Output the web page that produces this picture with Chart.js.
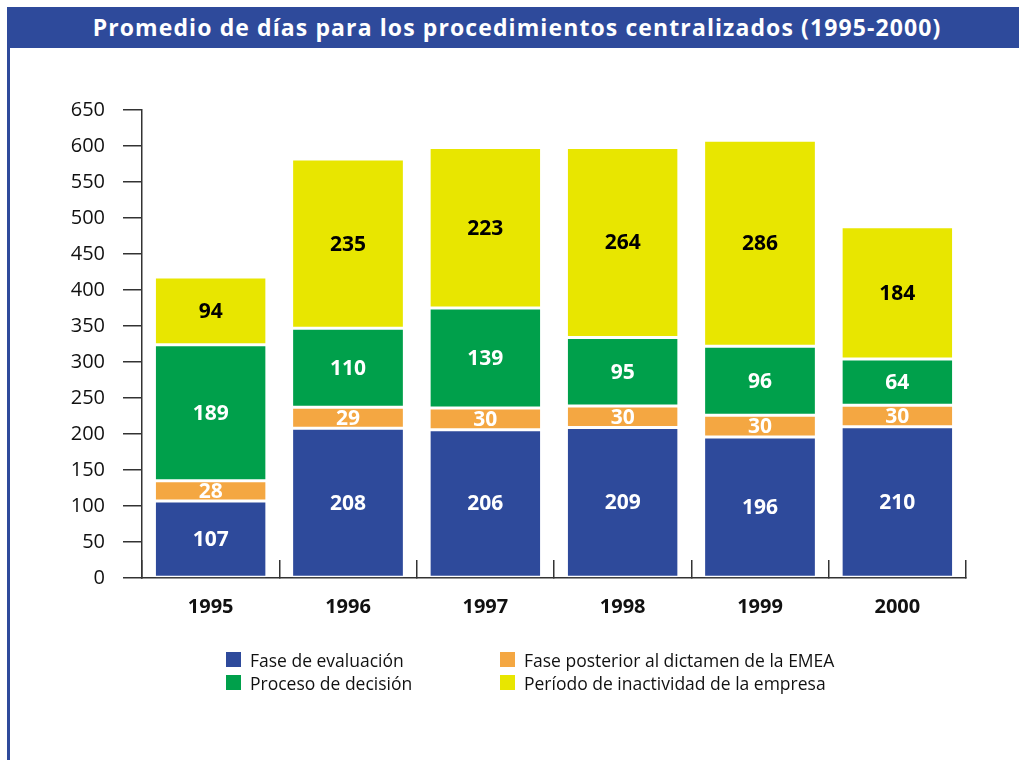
<!DOCTYPE html>
<html>
<head>
<meta charset="utf-8">
<script src="https://cdn.jsdelivr.net/npm/chart.js@4/dist/chart.umd.min.js"></script>
<style>
    body { margin: 0; background: #fff; font-family: "Open Sans", sans-serif; }
    #page { position: relative; width: 1019px; height: 760px; overflow: hidden; }
    #banner { position: absolute; left: 7px; top: 7px; width: 1012px; height: 41px; background: #2e4a9b;
        color: #fff; font-weight: bold; font-size: 23px; letter-spacing: 1.1px; line-height: 41px; text-align: center; }
    #banner span { position: relative; left: 4px; }
    #edge { position: absolute; left: 7px; top: 48px; width: 2.5px; height: 712px; background: #2e4a9b; }
    #wrap { position: absolute; left: 0; top: 0; width: 1019px; height: 760px; }
    #legend { position: absolute; left: 226px; top: 650px; display: grid;
        grid-template-columns: 274px 340px; row-gap: 4px; font-size: 17.5px; color: #111; }
    #legend div { display: flex; align-items: center; height: 19px; }
    #legend i { display: inline-block; width: 15px; height: 15px; margin-right: 9px; }
</style>
</head>
<body>
<div id="page">
    <div id="banner"><span>Promedio de días para los procedimientos centralizados (1995-2000)</span></div>
    <div id="edge"></div>
    <div id="wrap"><canvas id="myChart"></canvas></div>
    <div id="legend"></div>
</div>
<script>
let years = ["1995", "1996", "1997", "1998", "1999", "2000"];

let evaluacion = [107, 208, 206, 209, 196, 210];
let posterior = [28, 29, 30, 30, 30, 30];
let decision = [189, 110, 139, 95, 96, 64];
let inactividad = [94, 235, 223, 264, 286, 184];

let yTicks = [0, 50, 100, 150, 200, 250, 300, 350, 400, 450, 500, 550, 600, 650];

let nombres = ["Fase de evaluación", "Fase posterior al dictamen de la EMEA", "Proceso de decisión", "Período de inactividad de la empresa"];
let colors = ['#2e4a9b', '#f4a742', '#00a04b', '#e8e600'];
let labelColors = ['#ffffff', '#ffffff', '#ffffff', '#000000'];

let gap = { top: 1.5, bottom: 1.5, left: 0, right: 0 };

function serie(i, data) {
    return {
        label: nombres[i],
        data: data,
        backgroundColor: colors[i],
        borderColor: '#ffffff',
        borderWidth: gap,
        borderSkipped: false,
        barPercentage: 0.8,
        categoryPercentage: 1.0,
        labelColor: labelColors[i]
    };
}

// numbers inside each segment
let valueLabels = {
    id: 'valueLabels',
    afterDatasetsDraw(chart) {
        let ctx = chart.ctx;
        ctx.save();
        ctx.font = 'bold 21px "Open Sans"';
        ctx.textAlign = 'center';
        ctx.textBaseline = 'middle';
        chart.data.datasets.forEach(function (ds, i) {
            chart.getDatasetMeta(i).data.forEach(function (bar, j) {
                let p = bar.getCenterPoint();
                ctx.fillStyle = ds.labelColor;
                ctx.fillText(ds.data[j], p.x, p.y + 1);
            });
        });
        ctx.restore();
    }
};

let myChart = document.getElementById("myChart").getContext('2d');

let chart1 = new Chart(myChart, {
    type: 'bar',
    data: {
        labels: years,
        datasets: [
            serie(0, evaluacion),
            serie(1, posterior),
            serie(2, decision),
            serie(3, inactividad)
        ]
    },
    options: {
        responsive: true,
        maintainAspectRatio: false,
        animation: false,
        layout: {
            padding: { left: 0, right: 53, top: 110, bottom: 122 }
        },
        plugins: {
            legend: { display: false },
            title: { display: false },
            tooltip: { enabled: false }
        },
        scales: {
            x: {
                stacked: true,
                afterFit: function (scale) { scale.height = 60; },
                grid: {
                    drawOnChartArea: false,
                    offset: true,
                    color: '#333',
                    lineWidth: 1.5,
                    tickLength: -18
                },
                border: { color: '#333', width: 1.5 },
                ticks: {
                    color: '#111',
                    padding: 35,
                    font: { family: 'Open Sans', size: 20, weight: 'bold' }
                }
            },
            y: {
                stacked: true,
                min: 0,
                max: 650,
                afterFit: function (scale) { scale.width = 142; },
                afterBuildTicks: function (scale) {
                    scale.ticks = yTicks.map(function (v) { return { value: v }; });
                },
                grid: {
                    drawOnChartArea: false,
                    color: '#333',
                    lineWidth: 1.5,
                    tickLength: 19
                },
                border: { color: '#333', width: 1.5 },
                ticks: {
                    color: '#111',
                    padding: 18,
                    font: { family: 'Open Sans', size: 20 }
                }
            }
        }
    },
    plugins: [valueLabels]
});

let legend = document.getElementById("legend");
chart1.data.datasets.forEach(function (ds) {
    let item = document.createElement("div");
    let box = document.createElement("i");
    box.style.background = ds.backgroundColor;
    item.appendChild(box);
    item.appendChild(document.createTextNode(ds.label));
    legend.appendChild(item);
});
</script>
</body>
</html>
